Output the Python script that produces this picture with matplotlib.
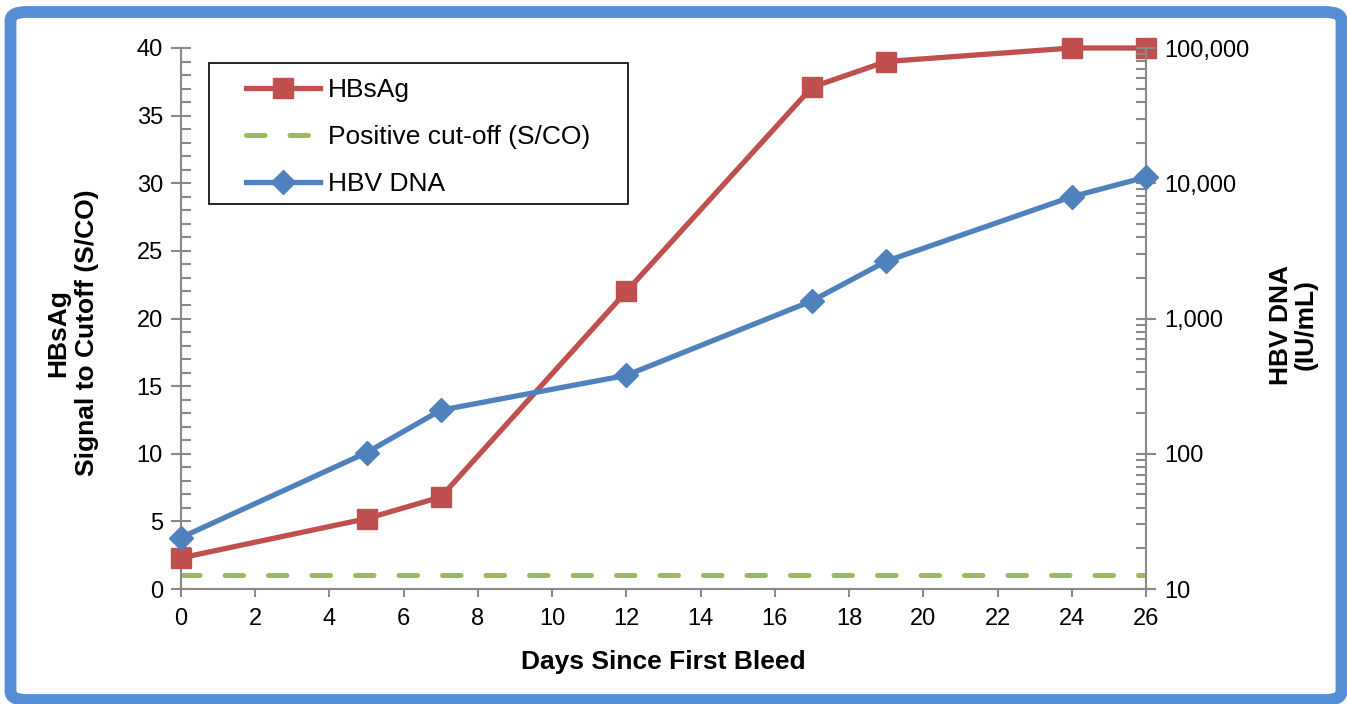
import numpy as np
import matplotlib
matplotlib.use("Agg")
import matplotlib.pyplot as plt
from matplotlib.patches import FancyBboxPatch, Rectangle
from matplotlib.ticker import FuncFormatter, MultipleLocator, LogLocator, NullFormatter

plt.rcParams['font.family'] = ['Liberation Sans', 'DejaVu Sans']

# # **data**
days = [0, 5, 7, 12, 17, 19, 24, 26]
hbsag = [2.3, 5.2, 6.8, 22.0, 37.1, 39.0, 40.0, 40.0]
hbv_dna = [24, 102, 210, 380, 1350, 2650, 7950, 11100]
cutoff_days = [0, 26]
cutoff = [1, 1]

red = '#C0504D'
blue = '#4F81BD'
green = '#9BBB59'
grey = '#898989'

fig = plt.figure(figsize=(13.47, 7.04), dpi=100)
ax = fig.add_axes([181/1347, 1-589/704, 965/1347, 541/704])
ax2 = ax.twinx()

# # **left axis: HBsAg**
l1, = ax.plot(days, hbsag, color=red, lw=3.8, marker='s', markersize=14,
              label='HBsAg', clip_on=False, zorder=3)
l2, = ax.plot(cutoff_days, cutoff, color=green, lw=3.6, dashes=(3.7, 5.0),
              dash_capstyle='round', label='Positive cut-off (S/CO)', zorder=2)
ax.set_xlim(0, 26)
ax.set_ylim(0, 40)

# # **right axis: HBV DNA (log)**
l3, = ax2.plot(days, hbv_dna, color=blue, lw=3.8, marker='D', markersize=12.5,
               label='HBV DNA', clip_on=False, zorder=3)
ax2.set_yscale('log')
ax2.set_ylim(10, 100000)
ax2.yaxis.set_major_locator(LogLocator(base=10, numticks=10))
ax2.yaxis.set_minor_locator(LogLocator(base=10, subs=np.arange(2, 10), numticks=10))
ax2.yaxis.set_major_formatter(FuncFormatter(lambda v, p: f'{int(round(v)):,}'))
ax2.yaxis.set_minor_formatter(NullFormatter())

# # **styling**
for a in (ax, ax2):
    for s in a.spines.values():
        s.set_visible(False)
ax.spines['left'].set_visible(True)
ax.spines['bottom'].set_visible(True)
ax2.spines['right'].set_visible(True)
for s in (ax.spines['left'], ax.spines['bottom'], ax2.spines['right']):
    s.set_color(grey)
    s.set_linewidth(1.5)

ax.xaxis.set_major_locator(MultipleLocator(2))
ax.yaxis.set_major_locator(MultipleLocator(5))
ax.yaxis.set_minor_locator(MultipleLocator(1))
ax.tick_params(axis='x', which='major', direction='out', length=6, width=1.5,
               color=grey, labelsize=17, pad=8)
ax.tick_params(axis='y', which='major', direction='inout', length=14, width=1.5,
               color=grey, labelsize=17, pad=6)
ax.tick_params(axis='y', which='minor', direction='in', length=7, width=1.5, color=grey)
ax2.tick_params(axis='y', which='major', direction='inout', length=14, width=1.5,
                color=grey, labelsize=17, pad=6)
ax2.tick_params(axis='y', which='minor', direction='in', length=7, width=1.5, color=grey)

# # **axis titles**
fig.text(663/1347, 1-662/704, 'Days Since First Bleed', fontsize=19,
         fontweight='bold', ha='center', va='center')
fig.text(73/1347, 1-333/704, 'HBsAg\nSignal to Cutoff (S/CO)', fontsize=19,
         fontweight='bold', ha='center', va='center', rotation=90,
         linespacing=1.25, multialignment='center')
fig.text(1293/1347, 1-325/704, 'HBV DNA\n(IU/mL)', fontsize=19,
         fontweight='bold', ha='center', va='center', rotation=90,
         linespacing=1.05, multialignment='center')

# # **legend (frame drawn separately)**
frame = Rectangle(((209-181)/965, (589-204)/541), 419/965, 141/541,
                  transform=ax2.transAxes, facecolor='white', edgecolor='black',
                  lw=1.2, zorder=4, clip_on=False)
ax2.add_patch(frame)
leg = ax2.legend(handles=[l1, l2, l3], loc='upper left',
                 bbox_to_anchor=((246-181)/965, (589-78)/541), borderaxespad=0,
                 fontsize=19, handlelength=2.8, labelspacing=0.88,
                 handletextpad=0.3, borderpad=0, frameon=False)
leg.set_zorder(5)

# # **blue rounded border**
border = FancyBboxPatch((10.5/1347, 4/704), 1331/1347, 688/704,
                        boxstyle='round,pad=0,rounding_size=0.012',
                        transform=fig.transFigure, fill=False,
                        edgecolor='#558ED5', lw=8.5, zorder=0)
fig.patches.append(border)

fig.savefig('out.png', dpi=100)
